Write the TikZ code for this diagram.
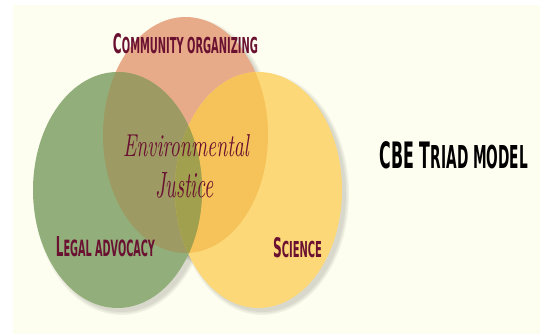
\documentclass[tikz,border=0pt]{standalone}
\usepackage{fontspec}
\usepackage{graphicx}
\newfontfamily\condfont{DejaVu Sans}
\definecolor{cbg}{HTML}{FEFEF0}
\definecolor{cgreen}{HTML}{92AF7B}
\definecolor{corange}{HTML}{E8AB89}
\definecolor{cyellow}{HTML}{FCD878}
\definecolor{cgo}{HTML}{9E9A63}
\definecolor{coy}{HTML}{F6C35A}
\definecolor{cgy}{HTML}{A6A74C}
\definecolor{cgoy}{HTML}{A1A04E}
\definecolor{cmaroon}{HTML}{6A1030}
\newcommand\mysc[2]{{\fontsize{12}{12}\selectfont #1}{\fontsize{9.8}{12}\selectfont #2}}
\begin{document}
\begin{tikzpicture}[x=1pt,y=-1pt,
  caplab/.style={inner sep=0pt,text=cmaroon,font=\condfont\bfseries},
  scriptlab/.style={inner sep=0pt,text=cmaroon,font=\itshape},
  shadowfill/.style={fill=black,opacity=0.05}]
\useasboundingbox (0,0) rectangle (540,335);
\fill[white] (0,0) rectangle (540,335);
\fill[cbg] (13,5) rectangle (540,334);
\def\pO{(185.5,135) ellipse [x radius=82.5pt, y radius=118pt]}
\def\pG{(117.5,190) ellipse [x radius=84.5pt, y radius=118pt]}
\def\pY{(258.5,190) ellipse [x radius=83.5pt, y radius=118pt]}
% soft shadows
\foreach \d in {0,1.5,3}{
  \fill[shadowfill] (189.5,139) ellipse [x radius=82.5pt+\d pt, y radius=118pt+\d pt];
  \fill[shadowfill] (121.5,194) ellipse [x radius=84.5pt+\d pt, y radius=118pt+\d pt];
  \fill[shadowfill] (262.5,194) ellipse [x radius=83.5pt+\d pt, y radius=118pt+\d pt];
}
% base ellipses
\fill[corange] \pO;
\fill[cgreen] \pG;
\fill[cyellow] \pY;
% pairwise overlaps
\begin{scope}\clip \pG; \fill[cgo] \pO; \end{scope}
\begin{scope}\clip \pO; \fill[coy] \pY; \end{scope}
\begin{scope}\clip \pG; \fill[cgy] \pY; \end{scope}
\begin{scope}\clip \pG; \clip \pO; \fill[cgoy] \pY; \end{scope}
% labels
\node[caplab] (co) at (185.5,43.5) {\resizebox{145pt}{20pt}{\mysc{C}{OMMUNITY ORGANIZING}}};
\node[caplab] (la) at (105.5,247) {\resizebox{99pt}{20pt}{\mysc{L}{EGAL ADVOCACY}}};
\node[caplab] (sc) at (297.5,248) {\resizebox{49pt}{20pt}{\mysc{S}{CIENCE}}};
\node[scriptlab] (env) at (186,146) {\resizebox{126pt}{22pt}{Environmental}};
\node[scriptlab] (jus) at (184.5,185.5) {\resizebox{59pt}{25pt}{Justice}};
\node[inner sep=0pt,text=black,font=\condfont\bfseries] (title) at (454,155.5) {\resizebox{148pt}{27pt}{{\fontsize{12}{12}\selectfont CBE T}{\fontsize{10.4}{12}\selectfont RIAD MODEL}}};
\end{tikzpicture}
\end{document}
